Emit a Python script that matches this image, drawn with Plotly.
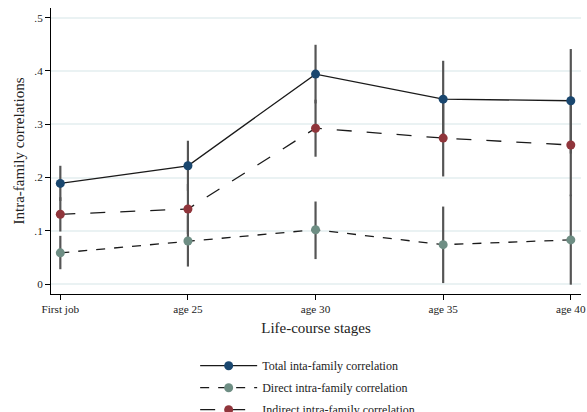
import plotly.graph_objects as go

stages = ["First job", "age 25", "age 30", "age 35", "age 40"]
y_tick_vals = [0, 0.1, 0.2, 0.3, 0.4, 0.5]
y_tick_text = ["0", ".1", ".2", ".3", ".4", ".5"]

total_est = [0.189, 0.222, 0.394, 0.347, 0.344]
total_lo = [0.156, 0.175, 0.339, 0.275, 0.245]
total_hi = [0.222, 0.269, 0.449, 0.419, 0.441]

direct_est = [0.0587, 0.081, 0.102, 0.074, 0.083]
direct_lo = [0.028, 0.033, 0.047, 0.002, -0.001]
direct_hi = [0.0906, 0.129, 0.155, 0.1455, 0.168]

indirect_est = [0.131, 0.141, 0.2925, 0.274, 0.261]
indirect_lo = [0.0987, 0.094, 0.239, 0.202, 0.165]
indirect_hi = [0.163, 0.188, 0.346, 0.346, 0.352]

series = [
    ("Total inta-family correlation", total_est, total_lo, total_hi, "#1a476f", "solid"),
    ("Direct intra-family correlation", direct_est, direct_lo, direct_hi, "#6e8e84", "dash"),
    ("Indirect intra-family correlation", indirect_est, indirect_lo, indirect_hi, "#90353b", "longdash"),
]

xs = list(range(len(stages)))
fig = go.Figure()

# confidence interval spikes (drawn first, under lines/markers)
for name, est, lo, hi, col, dash in series:
    bx, by = [], []
    for i in xs:
        bx += [i, i, None]
        by += [lo[i], hi[i], None]
    fig.add_trace(go.Scatter(x=bx, y=by, mode="lines", line=dict(color="#555555", width=2.2),
                             showlegend=False, hoverinfo="skip"))

for k, (name, est, lo, hi, col, dash) in enumerate(series):
    fig.add_trace(go.Scatter(
        x=xs, y=est, mode="lines+markers", name=name, legendgroup=f"g{k}",
        line=dict(color="#1a1a1a", width=1.3, dash=dash),
        marker=dict(color=col, size=9, line=dict(width=0)),
    ))

fig.update_layout(
    width=587, height=412,
    margin=dict(l=51, r=6, t=8, b=118, autoexpand=False),
    plot_bgcolor="white", paper_bgcolor="white",
    font=dict(family="Liberation Serif", size=12, color="#222222"),
    legend=dict(orientation="v", x=0.272, xanchor="left", y=-0.2, yanchor="top",
                font=dict(size=12, family="Liberation Serif", color="#222222"),
                tracegroupgap=3, itemwidth=57, bgcolor="rgba(0,0,0,0)"),
    xaxis=dict(range=[-0.073, 4.08], tickvals=xs, ticktext=stages, automargin=False,
               showgrid=False, zeroline=False, showline=True, linecolor="black", linewidth=1,
               ticks="outside", ticklen=5, tickcolor="black",
               tickfont=dict(size=11.2, family="Liberation Serif", color="#222222"),
               title=dict(text="Life-course stages", font=dict(size=15, family="Liberation Serif"), standoff=8)),
    yaxis=dict(range=[-0.0185, 0.518], tickvals=y_tick_vals, ticktext=y_tick_text, automargin=False,
               showgrid=True, gridcolor="#eaf2f3", gridwidth=1.5, zeroline=False,
               showline=True, linecolor="black", linewidth=1,
               ticks="outside", ticklen=5, tickcolor="black",
               tickfont=dict(size=11.2, family="Liberation Serif", color="#222222"),
               title=dict(text="Intra-family correlations", font=dict(size=15, family="Liberation Serif"), standoff=6)),
)

fig.write_html("out.html", config={"displayModeBar": False},
               post_script="document.body.style.margin='0';")
